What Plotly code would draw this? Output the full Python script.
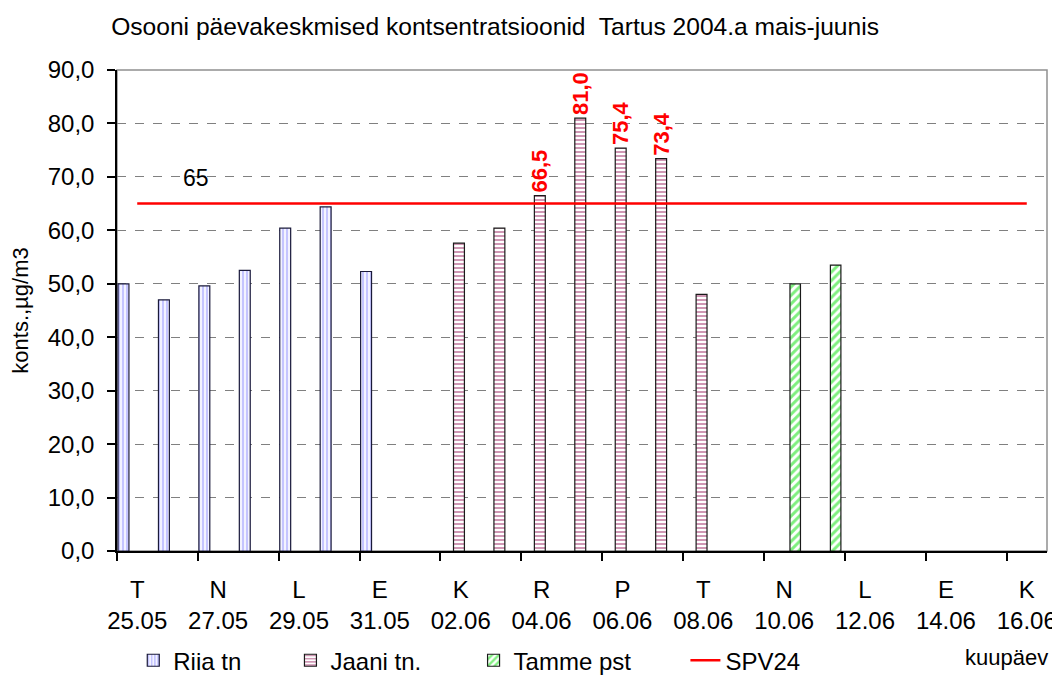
import plotly.graph_objects as go

# ---------------- data ----------------
dates = ["25.05", "26.05", "27.05", "28.05", "29.05", "30.05", "31.05",
         "01.06", "02.06", "03.06", "04.06", "05.06", "06.06", "07.06",
         "08.06", "09.06", "10.06", "11.06", "12.06", "13.06", "14.06",
         "15.06", "16.06"]
weekdays = ["T", "K", "N", "R", "L", "P", "E",
            "T", "K", "N", "R", "L", "P", "E",
            "T", "K", "N", "R", "L", "P", "E",
            "T", "K"]
riia = [50.0, 47.0, 49.6, 52.5, 60.4, 64.4, 52.3] + [None] * 16
jaani = [None] * 8 + [57.6, 60.4, 66.5, 81.0, 75.4, 73.4, 48.0] + [None] * 8
tamme = [None] * 16 + [50.0, 53.5] + [None] * 5
spv24 = [65] * 23
limit_label = "65"

x = list(range(len(dates)))
tick_idx = x[::2]
tick_text = [f"{weekdays[i]}<br>{dates[i]}" for i in tick_idx]


def fmt(v):
    return f"{v:.1f}".replace(".", ",")


jaani_text = [fmt(v) if (v is not None and v > 65) else "" for v in jaani]

FONT = "Liberation Sans, Arial, sans-serif"

# the page body adds an 8px margin, so the figure is sized to fill the rest
W, H = 1052, 672

fig = go.Figure()

fig.add_trace(go.Bar(
    x=x, y=riia, name="Riia tn", legend="legend",
    offset=-0.475, width=0.27,
    marker=dict(color="white",
                line=dict(color="#1a1a3a", width=1.2),
                pattern=dict(shape="|", fgcolor="#8c8cff", bgcolor="white",
                             size=4, solidity=0.6)),
))
fig.add_trace(go.Bar(
    x=x, y=jaani, name="Jaani tn.", legend="legend2",
    offset=-0.178, width=0.27,
    marker=dict(color="white",
                line=dict(color="#1a1a1a", width=1.2),
                pattern=dict(shape="-", fgcolor="#a0306a", bgcolor="white",
                             size=4, solidity=0.5)),
    text=jaani_text, textposition="outside", textangle=-90,
    constraintext="none", cliponaxis=False,
    textfont=dict(color="#ff0000", size=22, family=FONT, weight="bold"),
))
fig.add_trace(go.Bar(
    x=x, y=tamme, name="Tamme pst", legend="legend3",
    offset=0.143, width=0.26,
    marker=dict(color="white",
                line=dict(color="#1a1a1a", width=1.2),
                pattern=dict(shape="/", fgcolor="#00e000", bgcolor="white",
                             size=6, solidity=0.5)),
))
fig.add_trace(go.Scatter(
    x=x, y=spv24, name="SPV24", mode="lines", legend="legend4",
    line=dict(color="#ff0000", width=2.5),
))

fig.add_annotation(x=1.45, y=spv24[1], text=limit_label, showarrow=False,
                   yshift=26, font=dict(size=23, color="black", family=FONT))
fig.add_annotation(xref="paper", yref="paper", x=1.003, y=-0.222,
                   xanchor="right", yanchor="middle", text="kuupäev",
                   showarrow=False, font=dict(size=22, color="black", family=FONT))

fig.add_shape(type="rect", xref="paper", yref="paper", x0=0, y0=0, x1=1, y1=1,
              line=dict(color="#909090", width=1.5), layer="below")

leg_common = dict(orientation="h", y=-0.228, yanchor="middle",
                  font=dict(size=24, family=FONT), bgcolor="rgba(0,0,0,0)")

fig.update_layout(
    width=W, height=H,
    margin=dict(l=109, r=13, t=62, b=129, autoexpand=False),
    paper_bgcolor="white", plot_bgcolor="white",
    separators=", ",
    font=dict(family=FONT, color="black", size=22),
    title=dict(text="Osooni päevakeskmised kontsentratsioonid  Tartus 2004.a mais-juunis",
               x=0.463, xanchor="center", xref="container",
               y=0.972, yanchor="middle", yref="container",
               font=dict(size=24.6, family=FONT, color="black")),
    showlegend=True,
    legend=dict(x=0.0175, xanchor="left", **leg_common),
    legend2=dict(x=0.1865, xanchor="left", **leg_common),
    legend3=dict(x=0.3834, xanchor="left", **leg_common),
    legend4=dict(x=0.6112, xanchor="left", **leg_common),
    barmode="overlay",
    xaxis=dict(range=[-0.5, 22.5], tickmode="array", tickvals=tick_idx,
               ticktext=tick_text, ticks="", showgrid=False, zeroline=False,
               showline=True, linecolor="black", linewidth=1.5,
               automargin=False,
               tickfont=dict(size=24, family=FONT), ticklabelstandoff=16,
               minor=dict(ticks="outside", tick0=-0.5, dtick=2, ticklen=8,
                          tickcolor="black", tickwidth=1.5, showgrid=False)),
    yaxis=dict(range=[0, 90], dtick=10, tickformat=".1f", ticks="outside",
               ticklen=8, tickcolor="black", tickwidth=1.5,
               showline=True, linecolor="black", linewidth=1.5,
               showgrid=True, gridcolor="#808080", griddash="dash", gridwidth=1,
               zeroline=False, tickfont=dict(size=24, family=FONT),
               ticklabelstandoff=8, automargin=False,
               title=dict(text="konts.,µg/m3", font=dict(size=22, family=FONT))),
)

fig.write_html("out.html")
